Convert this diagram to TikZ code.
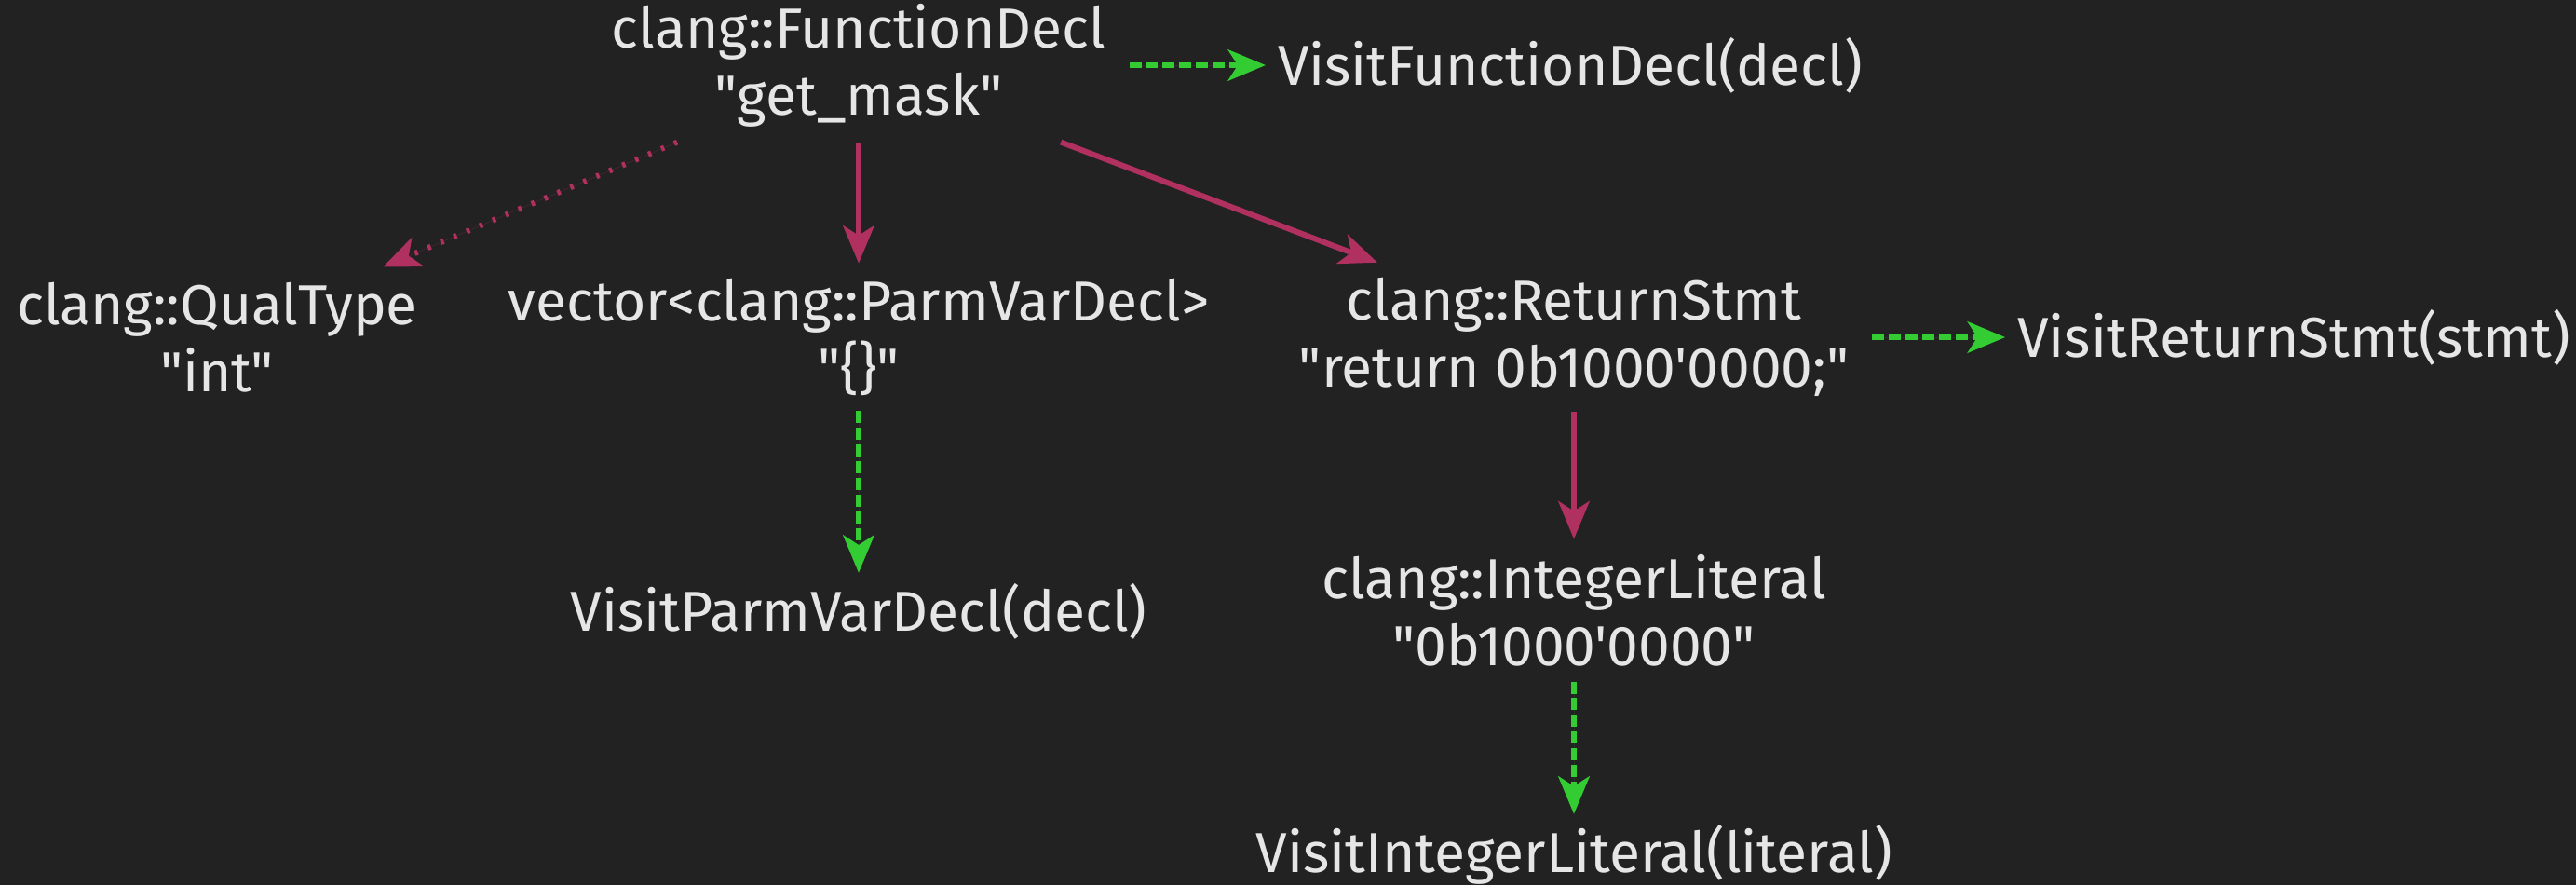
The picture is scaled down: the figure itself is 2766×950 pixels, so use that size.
\documentclass[tikz,border=0pt]{standalone}
\usepackage{fontspec}
\setmainfont{Fira Sans}[Ligatures=TeXOff]
\usetikzlibrary{arrows.meta}
\definecolor{bg}{HTML}{222222}
\definecolor{fg}{HTML}{E6E6E6}
\definecolor{edgec}{HTML}{B0305F}
\definecolor{visitc}{HTML}{33CC33}
\begin{document}
\begin{tikzpicture}[x=0.01cm,y=-0.01cm,
  lbl/.style={text=fg, font=\fontsize{17.2}{20.5}\selectfont, align=center, inner xsep=7pt, inner ysep=4.5pt},
  vlbl/.style={lbl, inner xsep=3.5pt, inner ysep=3pt},
  tip/.style={-{Stealth[length=11.5pt,width=9.5pt,inset=3pt]}},
  child/.style={tip, draw=edgec, fill=edgec, line width=1.7pt},
  typeedge/.style={child, dash pattern=on 1pt off 3.3pt},
  visit/.style={tip, draw=visitc, fill=visitc, line width=1.7pt, dash pattern=on 3.7pt off 1.4pt}]
\fill[bg] (0,0) rectangle (2766,950);
\useasboundingbox (0,0) rectangle (2766,950);
\node[lbl] (fd) at (922,70) {clang::FunctionDecl\\"get\_mask"};
\node[lbl] (qt) at (233,362) {clang::QualType\\"int"};
\node[lbl] (pv) at (922,362) {vector<clang::ParmVarDecl>\\"\{\}"};
\node[lbl] (rs) at (1690,362) {clang::ReturnStmt\\"return 0b1000'0000;"};
\node[lbl] (il) at (1690,655) {clang::IntegerLiteral\\"0b1000'0000"};
\node[vlbl] (vfd) at (1686,70) {VisitFunctionDecl(decl)};
\node[vlbl] (vrs) at (2463,362) {VisitReturnStmt(stmt)};
\node[vlbl] (vpv) at (922,656) {VisitParmVarDecl(decl)};
\node[vlbl] (vil) at (1690,917) {VisitIntegerLiteral(literal)};
\draw[typeedge] (fd) -- (qt);
\draw[child] (fd) -- (pv);
\draw[child] (fd) -- (rs);
\draw[child] (rs) -- (il);
\draw[visit] (fd) -- (vfd);
\draw[visit] (rs) -- (vrs);
\draw[visit] (pv) -- (vpv);
\draw[visit] (il) -- (vil);
\end{tikzpicture}
\end{document}
